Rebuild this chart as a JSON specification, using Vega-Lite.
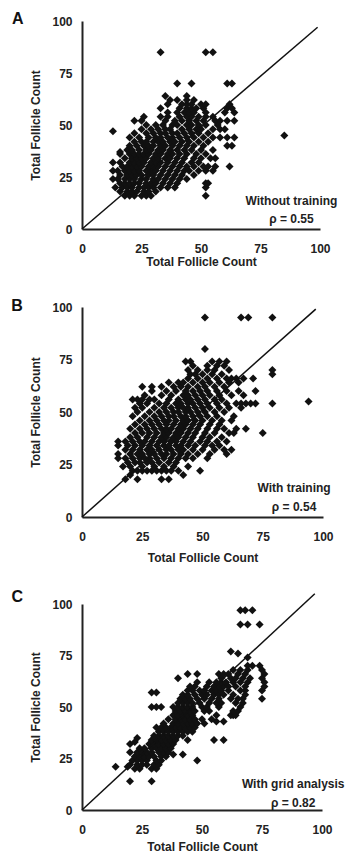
{
"$schema": "https://vega.github.io/schema/vega-lite/v6.json",
"padding": {"left": 11, "top": 10, "right": 2, "bottom": 4},
"spacing": 25,
"config": {
 "view": {"stroke": null},
 "axis": {"grid": false, "ticks": false, "tickSize": 0, "domainColor": "#222", "domainWidth": 2, "labelFont": "Liberation Sans", "labelFontWeight": "bold", "labelFontSize": 12, "labelColor": "#222", "titleFont": "Liberation Sans", "titleFontWeight": "bold", "titleFontSize": 12, "titleColor": "#222", "labelFlush": false, "labelOverlap": false},
 "axisX": {"labelPadding": 14},
 "axisY": {"labelPadding": 10, "titlePadding": 9}
},
"datasets": {
 "a": [
{"x":18,"y":16},{"x":20,"y":16},{"x":22,"y":16},{"x":25,"y":16},{"x":27,"y":16},{"x":29,"y":16},{"x":52,"y":16},
{"x":16,"y":18},{"x":19,"y":18},{"x":21,"y":18},{"x":23,"y":18},{"x":26,"y":18},{"x":28,"y":18},{"x":31,"y":18},
{"x":14,"y":20},{"x":17,"y":20},{"x":19,"y":20},{"x":21,"y":20},{"x":24,"y":20},{"x":26,"y":20},{"x":28,"y":20},{"x":30,"y":20},{"x":33,"y":20},{"x":36,"y":20},{"x":39,"y":20},{"x":52,"y":20},
{"x":16,"y":22},{"x":18,"y":22},{"x":20,"y":22},{"x":22,"y":22},{"x":24,"y":22},{"x":27,"y":22},{"x":29,"y":22},{"x":31,"y":22},{"x":34,"y":22},{"x":37,"y":22},{"x":40,"y":22},{"x":52,"y":22},{"x":53,"y":22},
{"x":13,"y":24},{"x":15,"y":24},{"x":18,"y":24},{"x":20,"y":24},{"x":22,"y":24},{"x":25,"y":24},{"x":27,"y":24},{"x":30,"y":24},{"x":32,"y":24},{"x":35,"y":24},{"x":38,"y":24},{"x":41,"y":24},{"x":44,"y":24},
{"x":16,"y":26},{"x":19,"y":26},{"x":21,"y":26},{"x":23,"y":26},{"x":25,"y":26},{"x":28,"y":26},{"x":30,"y":26},{"x":33,"y":26},{"x":36,"y":26},{"x":39,"y":26},{"x":42,"y":26},{"x":47,"y":26},
{"x":13,"y":28},{"x":15,"y":28},{"x":18,"y":28},{"x":20,"y":28},{"x":22,"y":28},{"x":24,"y":28},{"x":27,"y":28},{"x":29,"y":28},{"x":31,"y":28},{"x":34,"y":28},{"x":37,"y":28},{"x":40,"y":28},{"x":43,"y":28},{"x":45,"y":28},{"x":49,"y":28},{"x":52,"y":28},{"x":55,"y":28},
{"x":17,"y":30},{"x":19,"y":30},{"x":21,"y":30},{"x":23,"y":30},{"x":25,"y":30},{"x":28,"y":30},{"x":30,"y":30},{"x":32,"y":30},{"x":35,"y":30},{"x":38,"y":30},{"x":41,"y":30},{"x":44,"y":30},{"x":47,"y":30},{"x":51,"y":30},{"x":53,"y":30},{"x":56,"y":30},{"x":62,"y":30},
{"x":13,"y":32},{"x":16,"y":32},{"x":20,"y":32},{"x":22,"y":32},{"x":24,"y":32},{"x":26,"y":32},{"x":29,"y":32},{"x":31,"y":32},{"x":33,"y":32},{"x":36,"y":32},{"x":39,"y":32},{"x":42,"y":32},{"x":46,"y":32},{"x":49,"y":32},
{"x":18,"y":34},{"x":21,"y":34},{"x":23,"y":34},{"x":25,"y":34},{"x":27,"y":34},{"x":30,"y":34},{"x":32,"y":34},{"x":35,"y":34},{"x":37,"y":34},{"x":40,"y":34},{"x":43,"y":34},{"x":47,"y":34},{"x":50,"y":34},{"x":54,"y":34},{"x":56,"y":34},
{"x":16,"y":36},{"x":20,"y":36},{"x":22,"y":36},{"x":24,"y":36},{"x":26,"y":36},{"x":28,"y":36},{"x":31,"y":36},{"x":33,"y":36},{"x":36,"y":36},{"x":38,"y":36},{"x":41,"y":36},{"x":44,"y":36},{"x":48,"y":36},{"x":52,"y":36},
{"x":16,"y":37},
{"x":19,"y":38},{"x":21,"y":38},{"x":24,"y":38},{"x":27,"y":38},{"x":29,"y":38},{"x":32,"y":38},{"x":34,"y":38},{"x":37,"y":38},{"x":40,"y":38},{"x":43,"y":38},{"x":46,"y":38},{"x":50,"y":38},{"x":55,"y":38},
{"x":20,"y":40},{"x":23,"y":40},{"x":26,"y":40},{"x":28,"y":40},{"x":30,"y":40},{"x":33,"y":40},{"x":35,"y":40},{"x":38,"y":40},{"x":41,"y":40},{"x":44,"y":40},{"x":47,"y":40},{"x":51,"y":40},{"x":61,"y":40},{"x":63,"y":40},
{"x":22,"y":42},{"x":25,"y":42},{"x":27,"y":42},{"x":30,"y":42},{"x":32,"y":42},{"x":34,"y":42},{"x":37,"y":42},{"x":39,"y":42},{"x":42,"y":42},{"x":45,"y":42},{"x":49,"y":42},{"x":53,"y":42},
{"x":20,"y":44},{"x":24,"y":44},{"x":28,"y":44},{"x":31,"y":44},{"x":33,"y":44},{"x":36,"y":44},{"x":38,"y":44},{"x":41,"y":44},{"x":44,"y":44},{"x":47,"y":44},{"x":51,"y":44},{"x":55,"y":44},{"x":58,"y":44},{"x":61,"y":44},{"x":64,"y":44},
{"x":85,"y":45},
{"x":22,"y":46},{"x":27,"y":46},{"x":30,"y":46},{"x":33,"y":46},{"x":35,"y":46},{"x":38,"y":46},{"x":40,"y":46},{"x":43,"y":46},{"x":46,"y":46},{"x":49,"y":46},{"x":53,"y":46},
{"x":13,"y":47},
{"x":25,"y":48},{"x":29,"y":48},{"x":32,"y":48},{"x":35,"y":48},{"x":37,"y":48},{"x":42,"y":48},{"x":45,"y":48},{"x":48,"y":48},{"x":50,"y":48},{"x":55,"y":48},{"x":58,"y":48},{"x":60,"y":48},
{"x":27,"y":50},{"x":31,"y":50},{"x":34,"y":50},{"x":38,"y":50},{"x":40,"y":50},{"x":44,"y":50},{"x":46,"y":50},{"x":49,"y":50},{"x":52,"y":50},{"x":57,"y":50},
{"x":22,"y":52},{"x":25,"y":52},{"x":35,"y":52},{"x":39,"y":52},{"x":42,"y":52},{"x":45,"y":52},{"x":48,"y":52},{"x":51,"y":52},{"x":56,"y":52},{"x":58,"y":52},{"x":61,"y":52},{"x":64,"y":52},
{"x":26,"y":54},{"x":33,"y":54},{"x":36,"y":54},{"x":41,"y":54},{"x":44,"y":54},{"x":46,"y":54},{"x":49,"y":54},{"x":52,"y":54},{"x":55,"y":54},
{"x":36,"y":56},{"x":40,"y":56},{"x":43,"y":56},{"x":45,"y":56},{"x":47,"y":56},{"x":52,"y":56},{"x":60,"y":56},{"x":64,"y":56},
{"x":33,"y":58},{"x":41,"y":58},{"x":44,"y":58},{"x":46,"y":58},{"x":48,"y":58},{"x":51,"y":58},{"x":61,"y":58},{"x":63,"y":58},
{"x":36,"y":60},{"x":42,"y":60},{"x":44,"y":60},{"x":46,"y":60},{"x":50,"y":60},{"x":52,"y":60},{"x":62,"y":60},
{"x":37,"y":62},{"x":40,"y":62},{"x":44,"y":62},{"x":47,"y":62},
{"x":35,"y":64},{"x":44,"y":64},
{"x":40,"y":70},{"x":46,"y":70},{"x":61,"y":70},{"x":63,"y":70},
{"x":33,"y":85},{"x":52,"y":85},{"x":55,"y":85}
 ],
 "b": [
{"x":18,"y":18},{"x":23,"y":18},{"x":33,"y":18},{"x":36,"y":18},
{"x":20,"y":20},{"x":42,"y":20},
{"x":21,"y":22},{"x":23,"y":22},{"x":25,"y":22},{"x":27,"y":22},{"x":29,"y":22},{"x":31,"y":22},{"x":33,"y":22},{"x":35,"y":22},{"x":37,"y":22},{"x":40,"y":22},{"x":49,"y":22},
{"x":17,"y":24},{"x":20,"y":24},{"x":25,"y":24},{"x":30,"y":24},{"x":34,"y":24},{"x":38,"y":24},{"x":44,"y":24},
{"x":19,"y":26},{"x":22,"y":26},{"x":24,"y":26},{"x":27,"y":26},{"x":29,"y":26},{"x":32,"y":26},{"x":36,"y":26},{"x":39,"y":26},
{"x":15,"y":28},{"x":18,"y":28},{"x":21,"y":28},{"x":24,"y":28},{"x":26,"y":28},{"x":28,"y":28},{"x":31,"y":28},{"x":34,"y":28},{"x":37,"y":28},{"x":40,"y":28},{"x":43,"y":28},{"x":46,"y":28},{"x":52,"y":28},
{"x":15,"y":30},{"x":20,"y":30},{"x":23,"y":30},{"x":25,"y":30},{"x":28,"y":30},{"x":30,"y":30},{"x":33,"y":30},{"x":35,"y":30},{"x":38,"y":30},{"x":41,"y":30},{"x":44,"y":30},{"x":48,"y":30},{"x":53,"y":30},{"x":60,"y":30},
{"x":18,"y":32},{"x":21,"y":32},{"x":24,"y":32},{"x":27,"y":32},{"x":29,"y":32},{"x":32,"y":32},{"x":35,"y":32},{"x":37,"y":32},{"x":40,"y":32},{"x":42,"y":32},{"x":46,"y":32},{"x":50,"y":32},{"x":55,"y":32},{"x":59,"y":32},{"x":62,"y":32},
{"x":15,"y":34},{"x":19,"y":34},{"x":22,"y":34},{"x":25,"y":34},{"x":28,"y":34},{"x":31,"y":34},{"x":34,"y":34},{"x":36,"y":34},{"x":39,"y":34},{"x":41,"y":34},{"x":44,"y":34},{"x":47,"y":34},{"x":51,"y":34},{"x":54,"y":34},{"x":57,"y":34},
{"x":15,"y":36},{"x":18,"y":36},{"x":21,"y":36},{"x":24,"y":36},{"x":26,"y":36},{"x":29,"y":36},{"x":32,"y":36},{"x":34,"y":36},{"x":37,"y":36},{"x":39,"y":36},{"x":42,"y":36},{"x":45,"y":36},{"x":49,"y":36},{"x":52,"y":36},{"x":56,"y":36},{"x":60,"y":36},
{"x":20,"y":38},{"x":23,"y":38},{"x":27,"y":38},{"x":30,"y":38},{"x":33,"y":38},{"x":35,"y":38},{"x":38,"y":38},{"x":40,"y":38},{"x":43,"y":38},{"x":46,"y":38},{"x":50,"y":38},{"x":53,"y":38},{"x":58,"y":38},
{"x":22,"y":40},{"x":25,"y":40},{"x":28,"y":40},{"x":31,"y":40},{"x":34,"y":40},{"x":36,"y":40},{"x":39,"y":40},{"x":41,"y":40},{"x":44,"y":40},{"x":47,"y":40},{"x":51,"y":40},{"x":55,"y":40},{"x":61,"y":40},{"x":63,"y":40},{"x":75,"y":40},
{"x":20,"y":42},{"x":24,"y":42},{"x":27,"y":42},{"x":30,"y":42},{"x":33,"y":42},{"x":35,"y":42},{"x":37,"y":42},{"x":40,"y":42},{"x":42,"y":42},{"x":45,"y":42},{"x":48,"y":42},{"x":52,"y":42},{"x":56,"y":42},{"x":59,"y":42},{"x":64,"y":42},{"x":68,"y":42},
{"x":22,"y":44},{"x":26,"y":44},{"x":29,"y":44},{"x":32,"y":44},{"x":35,"y":44},{"x":38,"y":44},{"x":41,"y":44},{"x":43,"y":44},{"x":46,"y":44},{"x":49,"y":44},{"x":53,"y":44},{"x":57,"y":44},
{"x":24,"y":46},{"x":28,"y":46},{"x":31,"y":46},{"x":34,"y":46},{"x":36,"y":46},{"x":39,"y":46},{"x":42,"y":46},{"x":44,"y":46},{"x":47,"y":46},{"x":50,"y":46},{"x":54,"y":46},{"x":58,"y":46},{"x":62,"y":46},
{"x":21,"y":48},{"x":26,"y":48},{"x":30,"y":48},{"x":33,"y":48},{"x":36,"y":48},{"x":38,"y":48},{"x":41,"y":48},{"x":43,"y":48},{"x":46,"y":48},{"x":49,"y":48},{"x":52,"y":48},{"x":56,"y":48},{"x":63,"y":48},
{"x":23,"y":50},{"x":28,"y":50},{"x":32,"y":50},{"x":35,"y":50},{"x":38,"y":50},{"x":40,"y":50},{"x":43,"y":50},{"x":45,"y":50},{"x":48,"y":50},{"x":51,"y":50},{"x":55,"y":50},{"x":59,"y":50},
{"x":22,"y":52},{"x":25,"y":52},{"x":30,"y":52},{"x":34,"y":52},{"x":37,"y":52},{"x":40,"y":52},{"x":42,"y":52},{"x":44,"y":52},{"x":47,"y":52},{"x":50,"y":52},{"x":53,"y":52},{"x":57,"y":52},{"x":61,"y":52},{"x":66,"y":52},
{"x":24,"y":54},{"x":27,"y":54},{"x":32,"y":54},{"x":35,"y":54},{"x":39,"y":54},{"x":41,"y":54},{"x":44,"y":54},{"x":46,"y":54},{"x":49,"y":54},{"x":52,"y":54},{"x":56,"y":54},{"x":60,"y":54},{"x":64,"y":54},{"x":66,"y":54},{"x":68,"y":54},{"x":70,"y":54},{"x":72,"y":54},{"x":79,"y":54},
{"x":94,"y":55},
{"x":21,"y":56},{"x":23,"y":56},{"x":25,"y":56},{"x":28,"y":56},{"x":30,"y":56},{"x":36,"y":56},{"x":40,"y":56},{"x":43,"y":56},{"x":45,"y":56},{"x":48,"y":56},{"x":51,"y":56},{"x":55,"y":56},{"x":58,"y":56},
{"x":26,"y":58},{"x":33,"y":58},{"x":37,"y":58},{"x":42,"y":58},{"x":44,"y":58},{"x":47,"y":58},{"x":50,"y":58},{"x":53,"y":58},{"x":57,"y":58},{"x":62,"y":58},{"x":67,"y":58},
{"x":29,"y":60},{"x":35,"y":60},{"x":39,"y":60},{"x":43,"y":60},{"x":46,"y":60},{"x":49,"y":60},{"x":52,"y":60},{"x":56,"y":60},{"x":60,"y":60},{"x":65,"y":60},{"x":72,"y":60},
{"x":25,"y":62},{"x":29,"y":62},{"x":33,"y":62},{"x":38,"y":62},{"x":41,"y":62},{"x":44,"y":62},{"x":48,"y":62},{"x":51,"y":62},{"x":55,"y":62},{"x":59,"y":62},
{"x":36,"y":64},{"x":40,"y":64},{"x":42,"y":64},{"x":46,"y":64},{"x":50,"y":64},{"x":53,"y":64},{"x":57,"y":64},{"x":61,"y":64},{"x":65,"y":64},
{"x":44,"y":66},{"x":48,"y":66},{"x":52,"y":66},{"x":56,"y":66},{"x":60,"y":66},{"x":62,"y":66},{"x":64,"y":66},{"x":67,"y":66},{"x":71,"y":66},
{"x":45,"y":68},{"x":47,"y":68},{"x":50,"y":68},{"x":54,"y":68},{"x":58,"y":68},{"x":79,"y":68},
{"x":44,"y":70},{"x":48,"y":70},{"x":52,"y":70},{"x":55,"y":70},{"x":61,"y":70},{"x":79,"y":70},
{"x":46,"y":72},{"x":52,"y":72},{"x":56,"y":72},{"x":59,"y":72},
{"x":43,"y":74},{"x":45,"y":74},{"x":54,"y":74},{"x":57,"y":74},{"x":60,"y":74},
{"x":51,"y":80},
{"x":51,"y":95},{"x":66,"y":95},{"x":69,"y":95},{"x":79,"y":95}
 ],
 "c": [
{"x":20,"y":14},{"x":29,"y":14},
{"x":22,"y":20},{"x":24,"y":20},{"x":29,"y":20},{"x":31,"y":20},
{"x":14,"y":21},{"x":19,"y":21},
{"x":20,"y":22},{"x":23,"y":22},{"x":25,"y":22},{"x":27,"y":22},{"x":30,"y":22},{"x":32,"y":22},
{"x":21,"y":24},{"x":23,"y":24},{"x":25,"y":24},{"x":27,"y":24},{"x":31,"y":24},{"x":33,"y":24},{"x":48,"y":24},
{"x":22,"y":26},{"x":24,"y":26},{"x":26,"y":26},{"x":28,"y":26},{"x":30,"y":26},{"x":33,"y":26},{"x":35,"y":26},
{"x":38,"y":27},{"x":42,"y":27},
{"x":20,"y":28},{"x":23,"y":28},{"x":25,"y":28},{"x":27,"y":28},{"x":29,"y":28},{"x":32,"y":28},{"x":34,"y":28},{"x":36,"y":28},
{"x":24,"y":30},{"x":26,"y":30},{"x":29,"y":30},{"x":31,"y":30},{"x":33,"y":30},{"x":35,"y":30},{"x":37,"y":30},
{"x":20,"y":32},{"x":28,"y":32},{"x":30,"y":32},{"x":32,"y":32},{"x":34,"y":32},{"x":36,"y":32},{"x":38,"y":32},
{"x":22,"y":33},
{"x":29,"y":34},{"x":31,"y":34},{"x":33,"y":34},{"x":35,"y":34},{"x":37,"y":34},{"x":39,"y":34},{"x":44,"y":34},{"x":55,"y":34},{"x":59,"y":34},
{"x":23,"y":35},
{"x":30,"y":36},{"x":32,"y":36},{"x":34,"y":36},{"x":36,"y":36},{"x":38,"y":36},{"x":40,"y":36},{"x":42,"y":36},
{"x":32,"y":38},{"x":34,"y":38},{"x":36,"y":38},{"x":38,"y":38},{"x":40,"y":38},{"x":42,"y":38},{"x":44,"y":38},{"x":46,"y":38},
{"x":31,"y":40},{"x":33,"y":40},{"x":35,"y":40},{"x":37,"y":40},{"x":39,"y":40},{"x":41,"y":40},{"x":43,"y":40},{"x":45,"y":40},{"x":47,"y":40},
{"x":34,"y":42},{"x":38,"y":42},{"x":40,"y":42},{"x":42,"y":42},{"x":44,"y":42},{"x":46,"y":42},{"x":48,"y":42},{"x":51,"y":42},
{"x":56,"y":43},{"x":59,"y":43},
{"x":36,"y":44},{"x":39,"y":44},{"x":41,"y":44},{"x":43,"y":44},{"x":45,"y":44},{"x":47,"y":44},{"x":50,"y":44},{"x":54,"y":44},
{"x":38,"y":46},{"x":40,"y":46},{"x":42,"y":46},{"x":44,"y":46},{"x":46,"y":46},{"x":56,"y":46},{"x":62,"y":46},{"x":63,"y":46},{"x":64,"y":46},
{"x":39,"y":48},{"x":41,"y":48},{"x":43,"y":48},{"x":45,"y":48},{"x":47,"y":48},{"x":51,"y":48},{"x":53,"y":48},{"x":63,"y":48},{"x":65,"y":48},
{"x":29,"y":50},{"x":31,"y":50},{"x":33,"y":50},{"x":38,"y":50},{"x":40,"y":50},{"x":42,"y":50},{"x":44,"y":50},{"x":46,"y":50},{"x":50,"y":50},{"x":52,"y":50},{"x":57,"y":50},{"x":66,"y":50},
{"x":40,"y":52},{"x":42,"y":52},{"x":44,"y":52},{"x":46,"y":52},{"x":49,"y":52},{"x":53,"y":52},{"x":56,"y":52},{"x":58,"y":52},{"x":64,"y":52},{"x":67,"y":52},
{"x":41,"y":54},{"x":43,"y":54},{"x":45,"y":54},{"x":48,"y":54},{"x":51,"y":54},{"x":54,"y":54},{"x":57,"y":54},{"x":62,"y":54},{"x":65,"y":54},{"x":67,"y":54},{"x":75,"y":54},
{"x":42,"y":56},{"x":44,"y":56},{"x":47,"y":56},{"x":50,"y":56},{"x":52,"y":56},{"x":55,"y":56},{"x":57,"y":56},{"x":59,"y":56},{"x":63,"y":56},{"x":68,"y":56},
{"x":29,"y":57},{"x":31,"y":57},
{"x":44,"y":58},{"x":46,"y":58},{"x":49,"y":58},{"x":51,"y":58},{"x":54,"y":58},{"x":56,"y":58},{"x":58,"y":58},{"x":61,"y":58},{"x":66,"y":58},{"x":68,"y":58},{"x":75,"y":58},
{"x":45,"y":60},{"x":47,"y":60},{"x":52,"y":60},{"x":55,"y":60},{"x":57,"y":60},{"x":59,"y":60},{"x":61,"y":60},{"x":64,"y":60},{"x":68,"y":60},{"x":76,"y":60},
{"x":48,"y":62},{"x":53,"y":62},{"x":56,"y":62},{"x":58,"y":62},{"x":60,"y":62},{"x":63,"y":62},{"x":66,"y":62},{"x":69,"y":62},{"x":76,"y":62},
{"x":40,"y":64},{"x":58,"y":64},{"x":62,"y":64},{"x":64,"y":64},{"x":67,"y":64},{"x":70,"y":64},{"x":75,"y":64},
{"x":44,"y":66},{"x":48,"y":66},{"x":57,"y":66},{"x":59,"y":66},{"x":61,"y":66},{"x":65,"y":66},{"x":68,"y":66},{"x":76,"y":66},
{"x":63,"y":68},{"x":66,"y":68},{"x":69,"y":68},{"x":75,"y":68},
{"x":69,"y":70},{"x":71,"y":70},{"x":74,"y":70},
{"x":69,"y":74},{"x":65,"y":76},{"x":62,"y":77},
{"x":66,"y":90},{"x":69,"y":90},{"x":74,"y":90},
{"x":66,"y":97},{"x":68,"y":97},{"x":71,"y":97}
 ],
 "lineA": [{"x":0,"y":0},{"x":99,"y":97}],
 "lineB": [{"x":0,"y":0},{"x":97,"y":99}],
 "lineC": [{"x":0,"y":0},{"x":97,"y":105}],
 "textA": [{"x":88,"y":13.5,"t":"Without training"},{"x":88,"y":4.8,"t":"ρ = 0.55"}],
 "textB": [{"x":88,"y":13.8,"t":"With training"},{"x":88,"y":4.8,"t":"ρ = 0.54"}],
 "textC": [{"x":88,"y":12.6,"t":"With grid analysis"},{"x":88,"y":3.4,"t":"ρ = 0.82"}],
 "letterA": [{"x":-27,"y":101,"t":"A"}],
 "letterB": [{"x":-27,"y":100.5,"t":"B"}],
 "letterC": [{"x":-27,"y":103.4,"t":"C"}]
},
"vconcat": [
 {"spacing": 30,
  "vconcat": [
 {"width": 238, "height": 208,
  "layer": [
   {"data": {"name": "a"}, "mark": {"type": "point", "shape": "diamond", "filled": true, "size": 64, "color": "#111", "opacity": 1},
    "encoding": {"x": {"field": "x", "type": "quantitative", "title": "Total Follicle Count", "scale": {"domain": [0,100], "nice": false}, "axis": {"titlePadding": 2, "values": [0,25,50,75,100]}},
                 "y": {"field": "y", "type": "quantitative", "title": "Total Follicle Count", "scale": {"domain": [0,100], "nice": false}, "axis": {"values": [0,25,50,75,100]}}}},
   {"data": {"name": "lineA"}, "mark": {"type": "line", "color": "#111", "strokeWidth": 1.5},
    "encoding": {"x": {"field": "x", "type": "quantitative", "title": "Total Follicle Count"}, "y": {"field": "y", "type": "quantitative", "title": "Total Follicle Count"}}},
   {"data": {"name": "textA"}, "mark": {"type": "text", "font": "Liberation Sans", "fontWeight": "bold", "fontSize": 12, "align": "center", "baseline": "middle", "color": "#222"},
    "encoding": {"x": {"field": "x", "type": "quantitative", "title": "Total Follicle Count"}, "y": {"field": "y", "type": "quantitative", "title": "Total Follicle Count"}, "text": {"field": "t"}}},
   {"data": {"name": "letterA"}, "mark": {"type": "text", "font": "Liberation Sans", "fontWeight": "bold", "fontSize": 16, "align": "center", "baseline": "middle", "color": "#111"},
    "encoding": {"x": {"field": "x", "type": "quantitative", "title": "Total Follicle Count"}, "y": {"field": "y", "type": "quantitative", "title": "Total Follicle Count"}, "text": {"field": "t"}}}
  ]},
 {"width": 241, "height": 210,
  "layer": [
   {"data": {"name": "b"}, "mark": {"type": "point", "shape": "diamond", "filled": true, "size": 64, "color": "#111", "opacity": 1},
    "encoding": {"x": {"field": "x", "type": "quantitative", "title": "Total Follicle Count", "scale": {"domain": [0,100], "nice": false}, "axis": {"titlePadding": 10, "values": [0,25,50,75,100]}},
                 "y": {"field": "y", "type": "quantitative", "title": "Total Follicle Count", "scale": {"domain": [0,100], "nice": false}, "axis": {"values": [0,25,50,75,100]}}}},
   {"data": {"name": "lineB"}, "mark": {"type": "line", "color": "#111", "strokeWidth": 1.5},
    "encoding": {"x": {"field": "x", "type": "quantitative", "title": "Total Follicle Count"}, "y": {"field": "y", "type": "quantitative", "title": "Total Follicle Count"}}},
   {"data": {"name": "textB"}, "mark": {"type": "text", "font": "Liberation Sans", "fontWeight": "bold", "fontSize": 12, "align": "center", "baseline": "middle", "color": "#222"},
    "encoding": {"x": {"field": "x", "type": "quantitative", "title": "Total Follicle Count"}, "y": {"field": "y", "type": "quantitative", "title": "Total Follicle Count"}, "text": {"field": "t"}}},
   {"data": {"name": "letterB"}, "mark": {"type": "text", "font": "Liberation Sans", "fontWeight": "bold", "fontSize": 16, "align": "center", "baseline": "middle", "color": "#111"},
    "encoding": {"x": {"field": "x", "type": "quantitative", "title": "Total Follicle Count"}, "y": {"field": "y", "type": "quantitative", "title": "Total Follicle Count"}, "text": {"field": "t"}}}
  ]}
  ]},
 {"width": 240, "height": 206,
  "layer": [
   {"data": {"name": "c"}, "mark": {"type": "point", "shape": "diamond", "filled": true, "size": 64, "color": "#111", "opacity": 1},
    "encoding": {"x": {"field": "x", "type": "quantitative", "title": "Total Follicle Count", "scale": {"domain": [0,100], "nice": false}, "axis": {"titlePadding": 6, "values": [0,25,50,75,100]}},
                 "y": {"field": "y", "type": "quantitative", "title": "Total Follicle Count", "scale": {"domain": [0,100], "nice": false}, "axis": {"values": [0,25,50,75,100]}}}},
   {"data": {"name": "lineC"}, "mark": {"type": "line", "color": "#111", "strokeWidth": 1.5},
    "encoding": {"x": {"field": "x", "type": "quantitative", "title": "Total Follicle Count"}, "y": {"field": "y", "type": "quantitative", "title": "Total Follicle Count"}}},
   {"data": {"name": "textC"}, "mark": {"type": "text", "font": "Liberation Sans", "fontWeight": "bold", "fontSize": 12, "align": "center", "baseline": "middle", "color": "#222"},
    "encoding": {"x": {"field": "x", "type": "quantitative", "title": "Total Follicle Count"}, "y": {"field": "y", "type": "quantitative", "title": "Total Follicle Count"}, "text": {"field": "t"}}},
   {"data": {"name": "letterC"}, "mark": {"type": "text", "font": "Liberation Sans", "fontWeight": "bold", "fontSize": 16, "align": "center", "baseline": "middle", "color": "#111"},
    "encoding": {"x": {"field": "x", "type": "quantitative", "title": "Total Follicle Count"}, "y": {"field": "y", "type": "quantitative", "title": "Total Follicle Count"}, "text": {"field": "t"}}}
  ]}
]
}
